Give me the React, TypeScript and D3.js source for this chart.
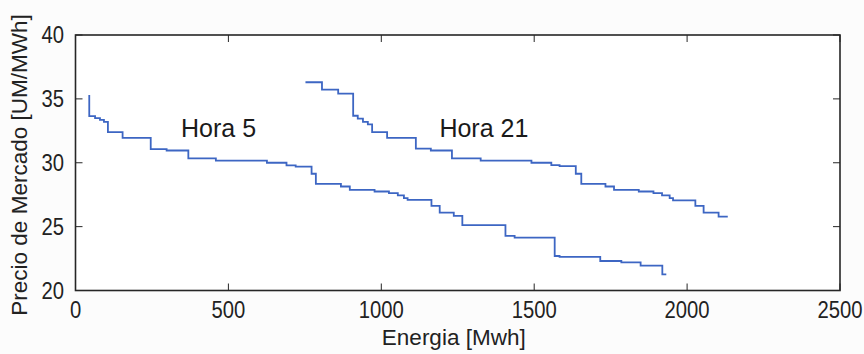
import React from "react";
import * as d3 from "d3";

const hora5Energy = [45, 45, 64, 80, 93, 106, 154, 246, 298, 369, 459, 626, 690, 720, 772, 786, 868, 897, 978, 1025, 1054, 1074, 1086, 1164, 1191, 1237, 1265, 1406, 1436, 1567, 1583, 1716, 1785, 1848, 1919, 1932];
const hora5Price = [35.3, 33.65, 33.5, 33.35, 33.2, 32.4, 31.94, 31.07, 30.96, 30.34, 30.16, 30.0, 29.8, 29.7, 29.14, 28.35, 28.14, 27.88, 27.75, 27.62, 27.44, 27.23, 27.1, 26.63, 26.1, 25.84, 25.11, 24.27, 24.14, 22.7, 22.63, 22.31, 22.2, 21.94, 21.27, 21.27];

const hora21Energy = [752, 806, 859, 908, 908, 923, 940, 956, 970, 1019, 1113, 1162, 1231, 1325, 1491, 1556, 1583, 1636, 1654, 1733, 1761, 1842, 1890, 1918, 1943, 1954, 2027, 2054, 2103, 2133];
const hora21Price = [36.3, 35.73, 35.41, 35.41, 33.68, 33.45, 33.2, 33.0, 32.4, 31.94, 31.1, 30.96, 30.34, 30.16, 30.0, 29.82, 29.73, 29.14, 28.35, 28.14, 27.88, 27.75, 27.62, 27.44, 27.23, 27.05, 26.63, 26.1, 25.79, 25.79];

const xTicks = [0, 500, 1000, 1500, 2000, 2500];
const yTicks = [20, 25, 30, 35, 40];

const seriesLabels = [
  { text: "Hora 5", energy: 345, price: 32.05 },
  { text: "Hora 21", energy: 1190, price: 32.05 },
];

const W = 864;
const H = 354;
const L = 75.5, R = 840, T = 35, B = 290.5;

export default function App() {
  const x = d3.scaleLinear().domain([0, 2500]).range([L, R]);
  const y = d3.scaleLinear().domain([20, 40]).range([B, T]);
  const line = d3
    .line<[number, number]>()
    .x((d) => x(d[0]))
    .y((d) => y(d[1]))
    .curve(d3.curveStepAfter);
  const s5 = hora5Energy.map((e, i) => [e, hora5Price[i]] as [number, number]);
  const s21 = hora21Energy.map((e, i) => [e, hora21Price[i]] as [number, number]);
  const lineColor = "#3d66c3";
  const axisColor = "#262626";
  const tickFont = "'Liberation Sans', Arial, sans-serif";
  return (
    <svg
      width={W}
      height={H}
      style={{ position: "absolute", left: 0, top: 0, background: "#fcfcfc" }}
    >
      <rect x={L} y={T} width={R - L} height={B - T} fill="#ffffff" />
      <path d={line(s5) || ""} fill="none" stroke={lineColor} strokeWidth={1.8} />
      <path d={line(s21) || ""} fill="none" stroke={lineColor} strokeWidth={1.8} />
      {xTicks.map((t) => (
        <g key={"xt" + t}>
          <line x1={x(t)} x2={x(t)} y1={B} y2={B - 7} stroke={axisColor} strokeWidth={1} />
          <line x1={x(t)} x2={x(t)} y1={T} y2={T + 7} stroke={axisColor} strokeWidth={1} />
          <text
            transform={`translate(${x(t)},${318}) scale(0.88,1)`}
            textAnchor="middle"
            fontFamily={tickFont}
            fontSize={23}
            fill="#222"
          >
            {t}
          </text>
        </g>
      ))}
      {yTicks.map((t) => (
        <g key={"yt" + t}>
          <line x1={L} x2={L + 7} y1={y(t)} y2={y(t)} stroke={axisColor} strokeWidth={1} />
          <line x1={R} x2={R - 7} y1={y(t)} y2={y(t)} stroke={axisColor} strokeWidth={1} />
          <text
            transform={`translate(${64},${y(t) + 8.3}) scale(0.88,1)`}
            textAnchor="end"
            fontFamily={tickFont}
            fontSize={23}
            fill="#222"
          >
            {t}
          </text>
        </g>
      ))}
      <rect
        x={L}
        y={T}
        width={R - L}
        height={B - T}
        fill="none"
        stroke={axisColor}
        strokeWidth={1.6}
      />
      {seriesLabels.map((s) => (
        <text
          key={s.text}
          x={x(s.energy)}
          y={y(s.price)}
          fontFamily="'Liberation Sans', Arial, sans-serif"
          fontSize={25}
          fill="#1a1a1a"
        >
          {s.text}
        </text>
      ))}
      <text
        x={(L + R) / 2 - 4}
        y={345}
        textAnchor="middle"
        fontFamily={tickFont}
        fontSize={22.5}
        fill="#222"
      >
        Energia [Mwh]
      </text>
      <text
        transform={`translate(27,${165}) rotate(-90)`}
        textAnchor="middle"
        fontFamily={tickFont}
        fontSize={22.5}
        fill="#222"
      >
        Precio de Mercado [UM/MWh]
      </text>
    </svg>
  );
}
